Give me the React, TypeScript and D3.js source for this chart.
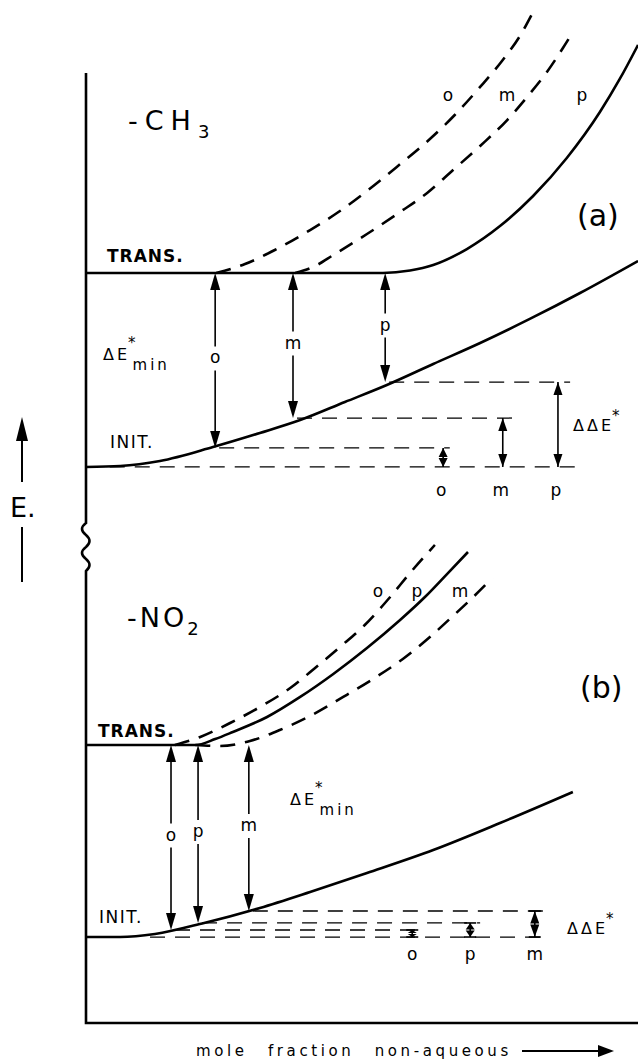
import * as d3 from 'd3';

type Pt = [number, number];

// x: mole fraction of the non-aqueous component (0..1), y: energy E (arbitrary units)

// (a) -CH3
const A_TRANS_O: Pt[] = [[0.236, 7.895], [0.288, 7.989], [0.342, 8.137], [0.406, 8.347], [0.46, 8.547], [0.509, 8.758], [0.563, 9.011], [0.623, 9.305], [0.668, 9.558], [0.714, 9.853], [0.755, 10.137], [0.786, 10.389], [0.808, 10.621]];
const A_TRANS_M: Pt[] = [[0.379, 7.895], [0.415, 7.968], [0.448, 8.084], [0.509, 8.305], [0.569, 8.537], [0.618, 8.737], [0.665, 8.979], [0.714, 9.232], [0.763, 9.505], [0.799, 9.747], [0.835, 10.011], [0.864, 10.263], [0.882, 10.432]];
const A_TRANS_P: Pt[] = [[0, 7.895], [0.538, 7.895], [0.587, 7.921], [0.629, 7.979], [0.69, 8.147], [0.75, 8.389], [0.81, 8.705], [0.871, 9.105], [0.931, 9.589], [0.967, 9.937], [1, 10.295]];
const A_INIT: Pt[] = [[0, 5.853], [0.062, 5.863], [0.134, 5.916], [0.23, 6.063], [0.315, 6.211], [0.388, 6.347], [0.469, 6.537], [0.545, 6.716], [0.629, 6.937], [0.714, 7.158], [0.804, 7.411], [0.895, 7.684], [1, 8.021]];
const A_TRANS_E = 7.895;
const A_INIT_E = 5.853;
const A_ISOMERS = ['o', 'm', 'p'];
const A_MIN_X = [0.234, 0.375, 0.542];
const A_MIN_E = [6.053, 6.368, 6.747];
const A_DDE_X = [0.647, 0.755, 0.855];
const A_GUIDE_END = [0.659, 0.777, 0.877];
const A_BASE_GUIDE: Pt = [0.043, 0.889];

// (b) -NO2
const B_TRANS_O: Pt[] = [[0.161, 2.926], [0.207, 3.011], [0.261, 3.158], [0.315, 3.326], [0.37, 3.526], [0.415, 3.737], [0.46, 3.958], [0.505, 4.189], [0.551, 4.484], [0.587, 4.737], [0.632, 5.032]];
const B_TRANS_P: Pt[] = [[0, 2.926], [0.198, 2.926], [0.234, 2.989], [0.266, 3.063], [0.328, 3.221], [0.388, 3.432], [0.448, 3.674], [0.509, 3.947], [0.569, 4.242], [0.614, 4.484], [0.654, 4.726], [0.692, 4.958]];
const B_TRANS_M: Pt[] = [[0.198, 2.926], [0.243, 2.916], [0.297, 2.968], [0.351, 3.084], [0.406, 3.232], [0.466, 3.432], [0.52, 3.621], [0.574, 3.832], [0.623, 4.063], [0.659, 4.253], [0.696, 4.453], [0.736, 4.684]];
const B_INIT: Pt[] = [[0, 0.905], [0.062, 0.905], [0.125, 0.937], [0.214, 1.053], [0.315, 1.211], [0.406, 1.379], [0.509, 1.579], [0.629, 1.821], [0.75, 2.105], [0.882, 2.432]];
const B_TRANS_E = 2.926;
const B_INIT_E = 0.905;
const B_ISOMERS = ['o', 'p', 'm'];
const B_MIN_X = [0.154, 0.203, 0.295];
const B_MIN_E = [0.979, 1.053, 1.179];
const B_DDE_X = [0.591, 0.696, 0.813];
const B_GUIDE_END = [0.605, 0.714, 0.832];
const B_BASE_GUIDE: Pt = [0.116, 0.838];

const W = 638;
const H = 1062;
const FONT = 'DejaVu Sans, sans-serif';

const x = d3.scaleLinear().domain([0, 1]).range([86, 638]);
const y = d3.scaleLinear().domain([0, 10]).range([1023, 73]);

const line = d3
  .line<Pt>()
  .x((d) => x(d[0]))
  .y((d) => y(d[1]))
  .curve(d3.curveMonotoneX);

// arrowhead with tip at (tx, ty); dir -1 points up, +1 points down
function head(tx: number, ty: number, dir: number, len: number, hw: number) {
  const by = ty - dir * len;
  return `M${tx},${ty}L${tx - hw},${by}L${tx + hw},${by}Z`;
}

function MinArrow({ px, yTop, yBot, label }: { px: number; yTop: number; yBot: number; label: string }) {
  const mid = (yTop + yBot) / 2;
  return (
    <g>
      <line x1={px} x2={px} y1={yTop + 4} y2={mid - 14} stroke="#000" strokeWidth={1.6} />
      <line x1={px} x2={px} y1={mid + 10} y2={yBot - 4} stroke="#000" strokeWidth={1.6} />
      <path d={head(px, yTop, -1, 17, 5)} fill="#000" />
      <path d={head(px, yBot, 1, 17, 5)} fill="#000" />
      <text x={px} y={mid + 3} textAnchor="middle" fontSize={17}>
        {label}
      </text>
    </g>
  );
}

function DoubleArrow({ px, yTop, yBot, caps }: { px: number; yTop: number; yBot: number; caps?: boolean }) {
  const len = Math.min(13, (yBot - yTop) / 2 - 0.5);
  return (
    <g>
      <line x1={px} x2={px} y1={yTop} y2={yBot} stroke="#000" strokeWidth={1.6} />
      <path d={head(px, yTop, -1, len, 4.5)} fill="#000" />
      <path d={head(px, yBot, 1, len, 4.5)} fill="#000" />
      {caps && (
        <>
          <line x1={px - 6} x2={px + 6} y1={yTop} y2={yTop} stroke="#000" strokeWidth={1.6} />
          <line x1={px - 6} x2={px + 6} y1={yBot} y2={yBot} stroke="#000" strokeWidth={1.6} />
        </>
      )}
    </g>
  );
}

function Guides({ startX, levels, ends, base, baseE }: { startX: number[]; levels: number[]; ends: number[]; base: Pt; baseE: number }) {
  return (
    <g stroke="#000" strokeWidth={1.3} strokeDasharray="15 10" fill="none">
      {levels.map((e, i) => (
        <line key={i} x1={x(startX[i]) + 4} x2={x(ends[i])} y1={y(e)} y2={y(e)} />
      ))}
      <line x1={x(base[0])} x2={x(base[1])} y1={y(baseE)} y2={y(baseE)} />
    </g>
  );
}

function DeltaEMin({ px, py }: { px: number; py: number }) {
  return (
    <text x={px} y={py} fontSize={16} letterSpacing={3}>
      ΔE
      <tspan fontSize={15} dy={-12} dx={-2}>*</tspan>
      <tspan fontSize={15} dy={22} dx={-6}>min</tspan>
    </text>
  );
}

function DeltaDeltaE({ px, py }: { px: number; py: number }) {
  return (
    <text x={px} y={py} fontSize={16} letterSpacing={3}>
      ΔΔE
      <tspan fontSize={15} dy={-10} dx={-2}>*</tspan>
    </text>
  );
}

export default function App() {
  const yAT = y(A_TRANS_E);
  const yBT = y(B_TRANS_E);
  return (
    <svg
      width={W}
      height={H}
      viewBox={`0 0 ${W} ${H}`}
      style={{ position: 'absolute', left: 0, top: 0, background: '#fff' }}
      fontFamily={FONT}
    >
      <rect width={W} height={H} fill="#fff" />

      {/* axes with break */}
      <path
        d={`M${x(0)},${y(10)}V523Q78,529 ${x(0)},535Q93,541 ${x(0)},547Q78,553 ${x(0)},559Q93,565 ${x(0)},571V${y(0)}H${x(1)}`}
        fill="none"
        stroke="#000"
        strokeWidth={2.6}
      />

      {/* E label with arrow */}
      <line x1={22} x2={22} y1={482} y2={432} stroke="#000" strokeWidth={2} />
      <path d={head(22, 417, -1, 24, 6)} fill="#000" />
      <text x={10} y={517} fontSize={27}>E.</text>
      <line x1={22} x2={22} y1={527} y2={582} stroke="#000" strokeWidth={2} />

      {/* ---- (a) -CH3 ---- */}
      <text x={128} y={130} fontSize={27} letterSpacing={7}>
        -CH<tspan fontSize={18} dy={8}>3</tspan>
      </text>
      <text x={577} y={226} fontSize={30}>(a)</text>
      <text x={107} y={262} fontSize={17} fontWeight="bold" letterSpacing={1}>TRANS.</text>
      <text x={110} y={448} fontSize={17} letterSpacing={1.5}>INIT.</text>

      <Guides startX={A_MIN_X} levels={A_MIN_E} ends={A_GUIDE_END} base={A_BASE_GUIDE} baseE={A_INIT_E} />

      <path d={line(A_TRANS_O) ?? ''} fill="none" stroke="#000" strokeWidth={2.6} strokeDasharray="15 10" />
      <path d={line(A_TRANS_M) ?? ''} fill="none" stroke="#000" strokeWidth={2.6} strokeDasharray="15 10" />
      <path d={line(A_TRANS_P) ?? ''} fill="none" stroke="#000" strokeWidth={2.6} />
      <path d={line(A_INIT) ?? ''} fill="none" stroke="#000" strokeWidth={2.6} />

      {['o', 'm', 'p'].map((k, i) => (
        <text key={k} x={[448, 507, 582][i]} y={101} textAnchor="middle" fontSize={17}>
          {k}
        </text>
      ))}

      {A_ISOMERS.map((k, i) => (
        <MinArrow key={k} px={x(A_MIN_X[i])} yTop={yAT} yBot={y(A_MIN_E[i])} label={k} />
      ))}
      <DeltaEMin px={103} py={360} />

      {A_ISOMERS.map((k, i) => (
        <g key={k}>
          <DoubleArrow px={x(A_DDE_X[i])} yTop={y(A_MIN_E[i])} yBot={y(A_INIT_E)} />
          <text x={x(A_DDE_X[i]) - 2} y={496} textAnchor="middle" fontSize={17}>
            {k}
          </text>
        </g>
      ))}
      <DeltaDeltaE px={573} py={431} />

      {/* ---- (b) -NO2 ---- */}
      <text x={127} y={627} fontSize={27} letterSpacing={3}>
        -NO<tspan fontSize={18} dy={8}>2</tspan>
      </text>
      <text x={580} y={698} fontSize={30}>(b)</text>
      <text x={98} y={737} fontSize={17} fontWeight="bold" letterSpacing={1}>TRANS.</text>
      <text x={99} y={923} fontSize={17} letterSpacing={1.5}>INIT.</text>

      <Guides startX={B_MIN_X} levels={B_MIN_E} ends={B_GUIDE_END} base={B_BASE_GUIDE} baseE={B_INIT_E} />

      <path d={line(B_TRANS_O) ?? ''} fill="none" stroke="#000" strokeWidth={2.6} strokeDasharray="15 10" />
      <path d={line(B_TRANS_M) ?? ''} fill="none" stroke="#000" strokeWidth={2.6} strokeDasharray="15 10" />
      <path d={line(B_TRANS_P) ?? ''} fill="none" stroke="#000" strokeWidth={2.6} />
      <path d={line(B_INIT) ?? ''} fill="none" stroke="#000" strokeWidth={2.6} />

      {['o', 'p', 'm'].map((k, i) => (
        <text key={k} x={[378, 417, 460][i]} y={597} textAnchor="middle" fontSize={17}>
          {k}
        </text>
      ))}

      {B_ISOMERS.map((k, i) => (
        <MinArrow key={k} px={x(B_MIN_X[i])} yTop={yBT} yBot={y(B_MIN_E[i])} label={k} />
      ))}
      <DeltaEMin px={290} py={805} />

      {B_ISOMERS.map((k, i) => (
        <g key={k}>
          <DoubleArrow px={x(B_DDE_X[i])} yTop={y(B_MIN_E[i])} yBot={y(B_INIT_E)} caps />
          <text x={x(B_DDE_X[i])} y={960} textAnchor="middle" fontSize={17}>
            {k}
          </text>
        </g>
      ))}
      <DeltaDeltaE px={567} py={934} />

      {/* x-axis title */}
      <text x={196} y={1056} fontSize={15} letterSpacing={3.6} wordSpacing={12}>
        mole fraction non-aqueous
      </text>
      <line x1={522} x2={600} y1={1051} y2={1051} stroke="#000" strokeWidth={2} />
      <path d="M614,1051L598,1045L598,1057Z" fill="#000" />
    </svg>
  );
}
